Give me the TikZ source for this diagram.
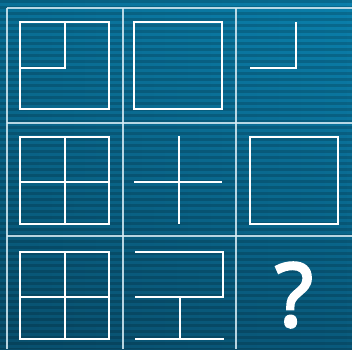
\documentclass[tikz,border=0pt]{standalone}
\usepackage{fontspec}
\setmainfont{Open Sans}
\newfontfamily\qfont{Open Sans}[FakeBold=3]
\usetikzlibrary{fadings}
\definecolor{bgtop}{HTML}{0B80AC}
\definecolor{bgbot}{HTML}{0A5A7C}
\definecolor{gridc}{HTML}{D6ECF5}
\begin{document}
\begin{tikzpicture}[x=1pt,y=-1pt,
  figline/.style={draw=white,line width=2.6pt,line cap=rect},
  gridline/.style={draw=gridc,line width=1.1pt,opacity=0.85},
  stripe/.style={fill=black,opacity=0.16}]
\useasboundingbox (0,0) rectangle (352,349);
% background
\shade[top color=bgtop,bottom color=bgbot] (0,0) rectangle (352,349);
\fill[black,opacity=0.12,path fading=east] (0,0) rectangle (352,349);
\foreach \y in {0,6,...,348} \fill[stripe] (0,\y) rectangle (352,\y+3);
% grid
\draw[gridline] (7,8) -- (7,349);
\draw[gridline] (123,8) -- (123,349);
\draw[gridline] (236,8) -- (236,349);
\draw[gridline] (7,8) -- (352,8);
\draw[gridline] (7,123) -- (352,123);
\draw[gridline] (7,236) -- (352,236);
% row 1
\draw[figline] (20,22) rectangle (109,109);
\draw[figline] (65,22) -- (65,68) -- (20,68);
\draw[figline] (134,22) rectangle (222,109);
\draw[figline] (296,23) -- (296,68) -- (251,68);
% row 2
\draw[figline] (20,137) rectangle (109,224);
\draw[figline] (65,137) -- (65,224);
\draw[figline] (20,182) -- (109,182);
\draw[figline] (179,137) -- (179,223);
\draw[figline] (135,182) -- (221,182);
\draw[figline] (250,137) rectangle (338,224);
% row 3
\draw[figline] (20,252) rectangle (109,339);
\draw[figline] (65,252) -- (65,339);
\draw[figline] (20,297) -- (109,297);
\draw[figline] (136,252) -- (223,252) -- (223,297) -- (136,297);
\draw[figline] (180,297) -- (180,339);
\draw[figline] (136,339) -- (223,339);
\node[text=white,inner sep=0pt,font=\fontsize{88}{88}\qfont] (q) at (294,295) {?};
\end{tikzpicture}
\end{document}
